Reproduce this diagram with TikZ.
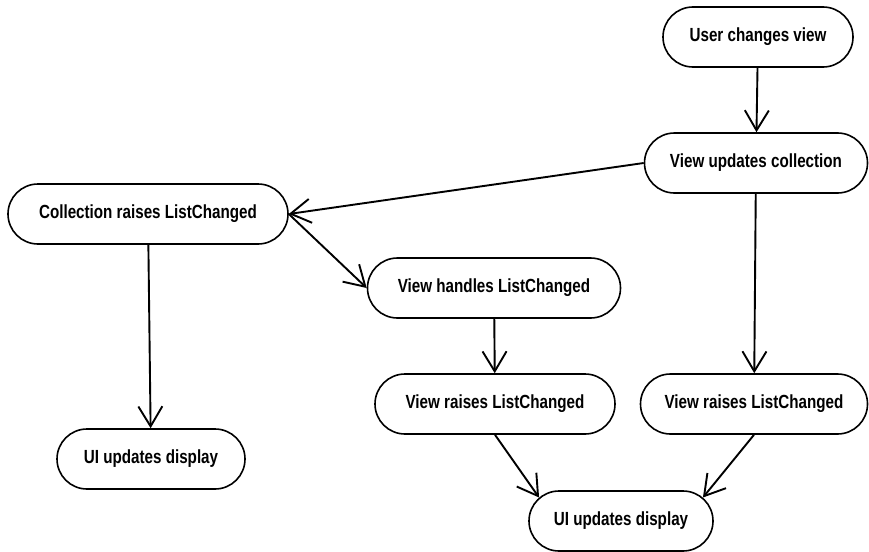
\documentclass[tikz,border=0pt]{standalone}
\usepackage{fontspec}
\setmainfont{Liberation Sans}[FakeStretch=0.8]
\usetikzlibrary{shapes.misc,arrows.meta}

\begin{document}
\begin{tikzpicture}[
  x=1pt, y=-1pt,
  stepbox/.style={rounded rectangle, draw=black, line width=1.6pt,
    minimum height=60pt, inner sep=0pt,
    font=\fontsize{19}{22}\selectfont\bfseries},
  flow/.style={line width=1.9pt,
    -{Straight Barb[length=20pt,width=24pt,line width=1.9pt]}},
]

% Canvas (pixel units, y down)
\useasboundingbox (0,0) rectangle (869,551);

% ============================================================
% NODES
% ============================================================
\node[stepbox, minimum width=190pt] (ucv) at (758,37)  {User changes view};
\node[stepbox, minimum width=223pt] (vuc) at (756,163) {View updates collection};
\node[stepbox, minimum width=280pt] (crl) at (148,214) {Collection raises ListChanged};
\node[stepbox, minimum width=253pt] (vhl) at (494,288) {View handles ListChanged};
\node[stepbox, minimum width=240pt] (vrl) at (495,404) {View raises ListChanged};
\node[stepbox, minimum width=227pt] (vrr) at (754,404) {View raises ListChanged};
\node[stepbox, minimum width=188pt] (uil) at (151,459) {UI updates display};
\node[stepbox, minimum width=184pt] (uib) at (621,521) {UI updates display};

% ============================================================
% CONNECTORS
% ============================================================
\draw[flow] (ucv) -- (vuc);
\draw[flow] (vuc.west) -- (crl.east);
\draw[flow] (crl.east) -- (vhl.west);
\draw[flow] (crl) -- (uil);
\draw[flow] (vhl) -- (vrl);
\draw[flow] (vuc) -- (vrr);
\draw[flow] (vrl.south) -- (uib.164);
\draw[flow] (vrr.south) -- (uib.16);

\end{tikzpicture}
\end{document}
